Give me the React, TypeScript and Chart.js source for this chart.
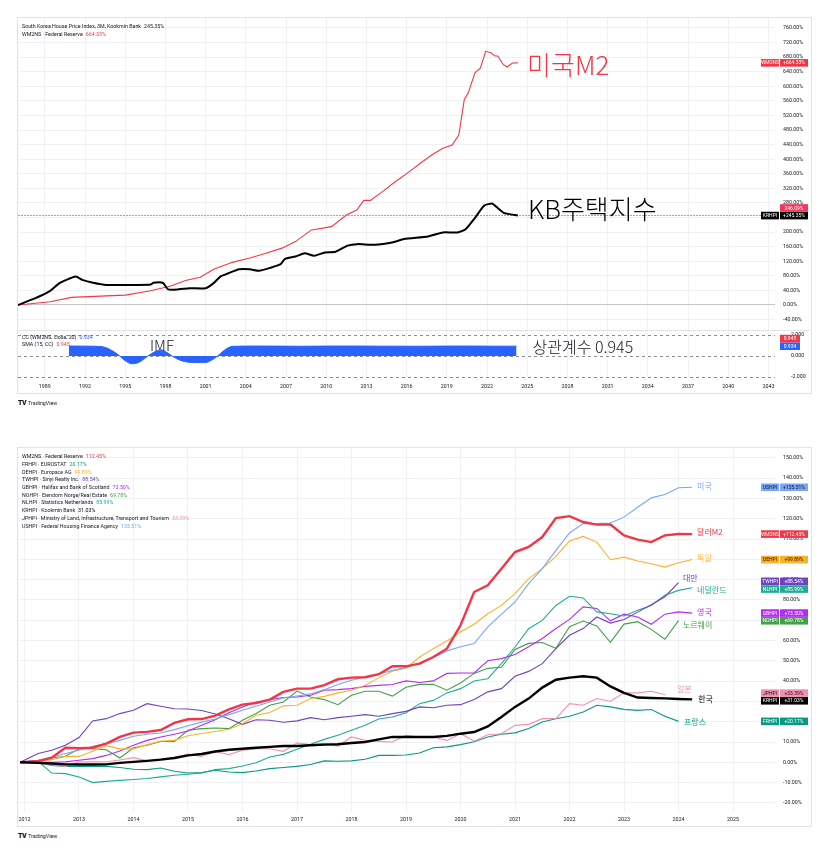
import React, { useEffect, useRef } from 'react';
import { Chart, registerables } from 'chart.js';

Chart.register(...registerables);

const UI_FONT = 'Roboto, "Liberation Sans", Arial, sans-serif';
const KR_FONT = '"Noto Sans CJK KR", "Noto Sans", sans-serif';
const TEXT = '#131722';
const GRID = '#eff1f5';
const RED = '#f23645';
const BLUE = '#2962ff';

// ---------------- Top chart (since 1987) ----------------
const topYearTicks = [1989, 1992, 1995, 1998, 2001, 2004, 2007, 2010, 2013, 2016, 2019, 2022, 2025, 2028, 2031, 2034, 2037, 2040, 2043];
const topPctTicks = [-40, 0, 40, 80, 120, 160, 200, 240, 280, 320, 360, 400, 440, 480, 520, 560, 600, 640, 680, 720, 760];

const m2Years = [1987.0, 1989.4, 1991.0, 1993.6, 1995.0, 1996.9, 1998.4, 1999.5, 2000.6, 2001.6, 2003.0, 2004.3, 2005.5, 2006.7, 2007.7, 2008.9, 2010.4, 2011.5, 2012.3, 2012.8, 2013.3, 2014.2, 2015.0, 2016.2, 2017.1, 2017.9, 2018.7, 2019.4, 2019.9, 2020.3, 2020.6, 2021.1, 2021.5, 2021.9, 2022.3, 2022.6, 2022.8, 2023.2, 2023.5, 2023.9, 2024.3];
const m2Values = [0, 9, 21, 25, 27, 39, 52, 67, 76, 98, 117, 129, 142, 156, 174, 206, 215, 247, 261, 287, 287, 311, 334, 366, 391, 412, 430, 439, 467, 563, 582, 637, 650, 696, 692, 683, 683, 660, 653, 664, 664.33];

const kbYears = [1987.0, 1988.3, 1989.4, 1990.1, 1991.3, 1991.8, 1992.6, 1993.6, 1995.8, 1996.9, 1997.1, 1997.8, 1998.2, 1999.0, 1999.8, 2001.0, 2001.6, 2002.1, 2002.7, 2003.5, 2004.3, 2005.0, 2005.9, 2006.6, 2006.9, 2007.7, 2008.4, 2009.1, 2009.9, 2010.7, 2011.6, 2012.3, 2013.6, 2015.0, 2015.8, 2017.6, 2018.7, 2019.8, 2020.4, 2021.1, 2021.8, 2022.4, 2022.8, 2023.3, 2024.3];
const kbValues = [0, 19, 39, 60, 78, 69, 61, 55, 55, 56, 61, 61, 43, 43, 46, 46, 60, 78, 87, 98, 98, 94, 103, 112, 126, 133, 142, 135, 144, 146, 163, 167, 165, 172, 181, 188, 199, 199, 208, 239, 273, 278, 266, 252, 245.35];
const kbPriceLine = 246.09;

const ccYears = [1990.8, 1992.0, 1993.2, 1993.9, 1994.5, 1995.0, 1995.5, 1996.0, 1996.7, 1997.2, 1997.7, 1998.1, 1998.5, 1999.0, 1999.5, 2000.0, 2000.6, 2001.1, 2001.5, 2001.9, 2002.4, 2003.0, 2005, 2008, 2011, 2014, 2017, 2020, 2022.5, 2024.2];
const ccValues = [0.95, 0.94, 0.9, 0.6, 0.1, -0.45, -0.74, -0.62, 0, 0.4, 0.57, 0.35, 0, -0.35, -0.55, -0.62, -0.63, -0.6, -0.35, 0, 0.55, 0.92, 0.95, 0.93, 0.95, 0.94, 0.93, 0.95, 0.94, 0.934];
const ccSma = 0.945;
const ccTicks = [-2, 0, 2];

// ---------------- Bottom chart (since 2012, quarterly) ----------------
const bottomYearTicks = [2012, 2013, 2014, 2015, 2016, 2017, 2018, 2019, 2020, 2021, 2022, 2023, 2024, 2025];
const bottomPctTicks = [-20, -10, 0, 10, 20, 30, 40, 50, 60, 70, 80, 90, 100, 110, 120, 130, 140, 150];
const quarterTimes = [2011.92].concat(Array.from({ length: 49 }, (_, k) => 2012.25 + 0.25 * k));

const m2Pct = [0, 0.5, 2.3, 7.2, 7, 7.2, 9.2, 12.5, 14.6, 15, 15.9, 19.4, 21.2, 21.3, 23, 26.1, 28.4, 29.2, 30.9, 34.7, 36.3, 36.3, 38, 40.9, 41.7, 41.9, 43.4, 47.3, 47.3, 48.6, 51.9, 56, 67.5, 83.9, 87.2, 95.4, 103.6, 106.1, 111, 120.3, 121.3, 118.4, 117.1, 117.2, 111.8, 109.7, 108.5, 111.8, 112.5, 112.45];
const usPct = [0, 1, 2.6, 4.3, 5.9, 7.9, 9.2, 10.8, 12.8, 13.8, 14.4, 16.1, 18, 19.8, 21.3, 23.5, 25.6, 27.6, 29.7, 31.7, 32.7, 33.7, 35.8, 38.3, 40.4, 42.1, 43.4, 45.3, 46.7, 48.9, 51.6, 54.9, 56.9, 58.5, 66.7, 72.9, 79, 88, 95.4, 104.4, 113, 117.6, 117.6, 117.9, 120.8, 125.7, 130.3, 132, 135.3, 135.51];
const dePct = [0, 0.5, 1.3, 2.9, 2.9, 5.4, 8.2, 6.6, 6.6, 8.7, 10.4, 10.8, 13.1, 14.2, 15.2, 16.3, 19, 23.2, 24.5, 27.8, 28.1, 31.4, 32.5, 34.2, 35.5, 38, 41.6, 44.9, 46.4, 51.9, 56, 59.8, 64.2, 68, 73.2, 77.3, 83.1, 90.5, 95.4, 101.5, 109.1, 111.3, 108.5, 99.8, 101.1, 99.2, 97.8, 96.2, 98.3, 99.89];
const twPct = [0, 4.3, 5.9, 8.4, 12.2, 20.4, 21.5, 24, 25.6, 28.9, 27.6, 26.4, 26.3, 25.5, 23.8, 21.5, 18.7, 21, 20.7, 19.7, 20.4, 22, 21, 22, 22.7, 23.5, 22.7, 24, 25.1, 27.3, 26.9, 28.1, 28.4, 30.9, 34.7, 36.3, 42.4, 44.8, 48.6, 56, 62.6, 65.9, 71.6, 68.6, 70.4, 74, 77.6, 81.6, 88.54, null];
const nlPct = [0, 0.5, -5.3, -5.6, -7.2, -10, -9.4, -8.9, -8.5, -8, -7.2, -6.4, -5.9, -5.3, -3.6, -3.1, -1.8, -0.2, 2.6, 3.9, 6.4, 8.9, 11.3, 13.3, 15.8, 18.2, 21.3, 22.3, 24.4, 28.9, 30.5, 34.2, 36.3, 40.1, 41.2, 48.6, 56.8, 65.8, 69.9, 77.3, 81.8, 81, 74.1, 73.2, 72.1, 74.9, 77.3, 82.3, 84.7, 85.99];
const gbPct = [0, 0, 0, 0.2, 1, 1.8, 3.4, 5.6, 8.4, 10.8, 12.5, 13.8, 15.4, 18.2, 21, 24.4, 27.3, 29.7, 30.9, 31.9, 32.2, 33, 35.5, 35.8, 36.3, 37.4, 37.9, 38.3, 40.1, 39.3, 40.1, 43.8, 44, 44, 50, 51.1, 53.1, 56.9, 61, 65.9, 70.4, 76.6, 75.8, 69.7, 73, 71.6, 68, 73, 74.1, 73.5];
const noPct = [0, 1, 2.1, 3, 6.7, 6.7, 6.2, 2.1, 7.2, 8.4, 10.3, 10.3, 15.8, 16.6, 16.9, 16.6, 20.7, 24, 28.1, 29.7, 35.1, 32.2, 30.9, 28.4, 33, 35, 35, 32.6, 37, 38.4, 38.4, 35.5, 39.1, 43.8, 46.3, 46.8, 55.6, 58.6, 59, 56.2, 66.8, 69.6, 67.2, 59.1, 68.1, 69.3, 65.5, 60.6, 69.78, null];
const frPct = [0, -0.2, -1.5, -2, -2, -2, -2, -2.6, -3.4, -3.6, -2.8, -4.4, -5.3, -5.1, -3.9, -4.8, -5.1, -4.3, -3.1, -2.6, -2, -1.1, 0.7, 0.5, 0.7, 1.5, 3.4, 3.4, 3.6, 4.6, 7.2, 7.6, 8.7, 10.1, 12.5, 13.8, 14.5, 16.6, 19.9, 21.5, 22.7, 24.8, 28.1, 27.3, 26.1, 25.6, 26, 22.7, 20.17, null];
const jpPct = [0, -0.5, -1.3, -2.1, 0.2, 0.2, 0.3, 1.1, 2.3, 0.7, 1.5, 2.3, 4.1, 2.9, 5.3, 3.8, 5.9, 6.7, 6.7, 5.4, 9.5, 8.7, 9.2, 8, 12.5, 10.8, 10.3, 10, 13.3, 12.5, 12.5, 10.8, 14.1, 10.5, 13.6, 14.1, 18.2, 18.7, 21.5, 21.5, 28.9, 28.1, 31.4, 30.1, 34.2, 34.2, 35, 33.39, null, null];
const krPct = [0, -0.3, -0.6, -1, -1.1, -1.1, -1, -0.3, 0.2, 0.7, 1.3, 2.1, 3.4, 4.1, 5.3, 6.2, 6.7, 7.2, 7.6, 8, 8, 8.4, 8.7, 8.9, 9.5, 10, 11.3, 12.5, 12.5, 12.5, 12.5, 13, 14.1, 14.9, 17.7, 22.3, 27.3, 31.4, 36.8, 40.7, 41.7, 42.4, 41.7, 37.4, 34.2, 31.9, 31.7, 31.5, 31.2, 31.03];

type Series = { code: string; src: string; data: (number | null)[]; color: string; width: number; label: string; tagText: string };

// drawing order: first = on top
const bottomSeries: Series[] = [
  { code: 'KRHPI', src: 'Kookmin Bank', data: krPct, color: '#000000', width: 2.4, label: '한국', tagText: '#ffffff' },
  { code: 'WM2NS', src: 'Federal Reserve', data: m2Pct, color: RED, width: 2.4, label: '달러M2', tagText: '#ffffff' },
  { code: 'USHPI', src: 'Federal Housing Finance Agency', data: usPct, color: '#7aa6f4', width: 1.1, label: '미국', tagText: '#131722' },
  { code: 'DEHPI', src: 'Europace AG', data: dePct, color: '#fbb12a', width: 1.1, label: '독일', tagText: '#131722' },
  { code: 'TWHPI', src: 'Sinyi Realty Inc.', data: twPct, color: '#6f42c1', width: 1.1, label: '대만', tagText: '#ffffff' },
  { code: 'NLHPI', src: 'Statistics Netherlands', data: nlPct, color: '#22ab94', width: 1.1, label: '네덜란드', tagText: '#ffffff' },
  { code: 'GBHPI', src: 'Halifax and Bank of Scotland', data: gbPct, color: '#b42bf5', width: 1.1, label: '영국', tagText: '#ffffff' },
  { code: 'NOHPI', src: 'Eiendom Norge/Real Estate', data: noPct, color: '#43a047', width: 1.1, label: '노르웨이', tagText: '#ffffff' },
  { code: 'JPHPI', src: 'Ministry of Land, Infrastructure, Transport and Tourism', data: jpPct, color: '#f48fb1', width: 1.1, label: '일본', tagText: '#131722' },
  { code: 'FRHPI', src: 'EUROSTAT', data: frPct, color: '#089981', width: 1.1, label: '프랑스', tagText: '#ffffff' },
];
const bottomLegendOrder = ['WM2NS', 'FRHPI', 'DEHPI', 'TWHPI', 'GBHPI', 'NOHPI', 'NLHPI', 'KRHPI', 'JPHPI', 'USHPI'];

// annotation anchors (time, value) for the hand-placed Korean labels
const bottomLabelAnchors: Record<string, [number, number]> = {
  USHPI: [2024.34, 136.1], WM2NS: [2024.34, 113.5], DEHPI: [2024.34, 100.7], TWHPI: [2024.08, 90.8],
  NLHPI: [2024.34, 85.1], GBHPI: [2024.34, 74.1], NOHPI: [2024.08, 67.7], JPHPI: [2023.97, 36.1],
  KRHPI: [2024.36, 31.4], FRHPI: [2024.1, 19.9],
};

// ---------------- helpers ----------------
const TAG_H = 7.6;
function lastValue(arr: (number | null)[]): number {
  for (let i = arr.length - 1; i >= 0; i--) if (arr[i] != null) return arr[i] as number;
  return 0;
}
function drawTag(ctx: CanvasRenderingContext2D, right: number, cy: number, name: string | null, value: string, bg: string, fg: string, valueW = 28) {
  ctx.save();
  ctx.font = `5px ${UI_FONT}`;
  ctx.textAlign = 'center';
  ctx.textBaseline = 'middle';
  const top = cy - TAG_H / 2;
  if (name) {
    ctx.fillStyle = bg;
    ctx.fillRect(right - 14, top, 18, TAG_H);
    ctx.fillStyle = fg;
    ctx.fillText(name, right - 5, cy + 0.3);
  }
  ctx.fillStyle = bg;
  ctx.fillRect(right + 5, top, valueW, TAG_H);
  ctx.fillStyle = fg;
  ctx.fillText(value, right + 5 + valueW / 2, cy + 0.3);
  ctx.restore();
}
function drawLabel(ctx: CanvasRenderingContext2D, text: string, x: number, y: number, color: string, font: string) {
  ctx.save();
  ctx.font = font;
  ctx.fillStyle = color;
  ctx.textAlign = 'left';
  ctx.textBaseline = 'middle';
  ctx.fillText(text, x, y);
  ctx.restore();
}
function relax(items: { y: number }[], h: number) {
  items.sort((a, b) => a.y - b.y);
  for (let it = 0; it < 30; it++) {
    for (let k = 1; k < items.length; k++) {
      const gap = items[k].y - items[k - 1].y;
      if (gap < h) {
        const d = (h - gap) / 2;
        items[k - 1].y -= d;
        items[k].y += d;
      }
    }
  }
}
const noPad = (s: any) => { s.paddingTop = 0; s.paddingBottom = 0; s.paddingLeft = 0; s.paddingRight = 0; };
const tickFont = { family: UI_FONT, size: 5.3 };

// ---------------- chart configs ----------------
const TOP_X_MIN = 1987.0, TOP_X_MAX = 2043.49;

function topMainConfig(): any {
  const overlay = {
    id: 'topOverlay',
    beforeDatasetsDraw(chart: any) {
      const { ctx, chartArea: a, scales: { y } } = chart;
      const py = Math.round(y.getPixelForValue(kbPriceLine)) + 0.5;
      ctx.save();
      ctx.strokeStyle = 'rgba(240,70,120,0.7)';
      ctx.lineWidth = 1;
      ctx.setLineDash([2, 1]);
      ctx.beginPath(); ctx.moveTo(a.left, py); ctx.lineTo(a.right, py); ctx.stroke();
      ctx.restore();
    },
    afterDraw(chart: any) {
      const { ctx, chartArea: a, scales: { x, y } } = chart;
      drawLabel(ctx, '미국M2', x.getPixelForValue(2024.99), y.getPixelForValue(658), RED, `300 26px ${KR_FONT}`);
      drawLabel(ctx, 'KB주택지수', x.getPixelForValue(2025.06), y.getPixelForValue(262), '#000000', `300 26px ${KR_FONT}`);
      const m2Last = lastValue(m2Values);
      const kbLast = lastValue(kbValues);
      drawTag(ctx, a.right, y.getPixelForValue(m2Last), 'WM2NS', '+' + m2Last.toFixed(2) + '%', RED, '#fff');
      const kbY = y.getPixelForValue(kbLast);
      drawTag(ctx, a.right, kbY, 'KRHPI', '+' + kbLast.toFixed(2) + '%', '#000', '#fff');
      drawTag(ctx, a.right, kbY - TAG_H, null, kbPriceLine.toFixed(2) + '%', '#f2365f', '#fff', 28);
    },
  };
  return {
    type: 'line',
    data: {
      datasets: [
        { data: kbYears.map((t, i) => ({ x: t, y: kbValues[i] })), borderColor: '#000', borderWidth: 2, pointRadius: 0, tension: 0.2 },
        { data: m2Years.map((t, i) => ({ x: t, y: m2Values[i] })), borderColor: RED, borderWidth: 1.1, pointRadius: 0, tension: 0 },
      ],
    },
    options: {
      animation: false, responsive: false, devicePixelRatio: 1, events: [],
      layout: { padding: 0 },
      plugins: { legend: { display: false }, tooltip: { enabled: false } },
      scales: {
        x: {
          type: 'linear', min: TOP_X_MIN, max: TOP_X_MAX,
          afterBuildTicks: (s: any) => { s.ticks = topYearTicks.map((v) => ({ value: v })); },
          ticks: { display: false },
          grid: { color: GRID, drawTicks: false },
          border: { display: false },
          afterFit: (s: any) => { s.height = 0; noPad(s); },
        },
        y: {
          position: 'right', min: -68.6, max: 787.4,
          afterBuildTicks: (s: any) => { s.ticks = topPctTicks.map((v) => ({ value: v })); },
          ticks: { font: tickFont, color: TEXT, padding: 8, autoSkip: false, callback: (v: number) => v.toFixed(2) + '%' },
          grid: { color: (c: any) => (c.tick && c.tick.value === 0 ? '#c3c6ce' : GRID), drawTicks: false },
          border: { display: false },
          afterFit: (s: any) => { s.width = 35; noPad(s); },
        },
      },
    },
    plugins: [overlay],
  };
}

function topLowerConfig(): any {
  const overlay = {
    id: 'ccOverlay',
    beforeDatasetsDraw(chart: any) {
      const { ctx, chartArea: a, scales: { y } } = chart;
      ctx.save();
      ctx.strokeStyle = '#8a8d96';
      ctx.lineWidth = 1;
      ctx.setLineDash([3, 3]);
      ccTicks.forEach((v) => {
        const py = Math.round(y.getPixelForValue(v)) + 0.5;
        ctx.beginPath(); ctx.moveTo(a.left, py); ctx.lineTo(a.right, py); ctx.stroke();
      });
      ctx.restore();
    },
    afterDraw(chart: any) {
      const { ctx, chartArea: a, scales: { x, y } } = chart;
      drawLabel(ctx, 'IMF', x.getPixelForValue(1996.85), y.getPixelForValue(1.05), TEXT, `300 15px ${KR_FONT}`);
      drawLabel(ctx, '상관계수 0.945', x.getPixelForValue(2025.4), y.getPixelForValue(0.86), TEXT, `300 16px ${KR_FONT}`);
      const ccLast = lastValue(ccValues);
      const by = y.getPixelForValue(ccLast);
      drawTag(ctx, a.right, by, null, ccLast.toFixed(3), BLUE, '#fff', 20);
      drawTag(ctx, a.right, by - TAG_H, null, ccSma.toFixed(3), RED, '#fff', 20);
    },
  };
  return {
    type: 'line',
    data: {
      datasets: [
        {
          data: ccYears.map((t, i) => ({ x: t, y: ccValues[i] })),
          borderColor: BLUE, backgroundColor: BLUE, borderWidth: 1, pointRadius: 0,
          fill: 'origin', cubicInterpolationMode: 'monotone',
        },
      ],
    },
    options: {
      animation: false, responsive: false, devicePixelRatio: 1, events: [],
      layout: { padding: 0 },
      plugins: { legend: { display: false }, tooltip: { enabled: false } },
      scales: {
        x: {
          type: 'linear', min: TOP_X_MIN, max: TOP_X_MAX,
          afterBuildTicks: (s: any) => { s.ticks = topYearTicks.map((v) => ({ value: v })); },
          ticks: { font: tickFont, color: TEXT, padding: 5, maxRotation: 0, autoSkip: false, callback: (v: number) => String(v) },
          grid: { color: GRID, drawTicks: false },
          border: { display: false },
          afterFit: (s: any) => { s.height = 14; noPad(s); },
        },
        y: {
          position: 'right', min: -2.095, max: 2.381,
          afterBuildTicks: (s: any) => { s.ticks = ccTicks.map((v) => ({ value: v })); },
          ticks: { font: tickFont, color: TEXT, padding: 8, autoSkip: false, callback: (v: number) => v.toFixed(3) },
          grid: { display: false },
          border: { display: false },
          afterFit: (s: any) => { s.width = 35; noPad(s); },
        },
      },
    },
    plugins: [overlay],
  };
}

function bottomConfig(): any {
  const overlay = {
    id: 'bottomOverlay',
    afterDraw(chart: any) {
      const { ctx, chartArea: a, scales: { x, y } } = chart;
      bottomSeries.forEach((s) => {
        const anc = bottomLabelAnchors[s.code];
        drawLabel(ctx, s.label, x.getPixelForValue(anc[0]), y.getPixelForValue(anc[1]), s.color, `8px ${KR_FONT}`);
      });
      const items = bottomSeries.map((s) => {
        const v = lastValue(s.data);
        return { s, v, y: y.getPixelForValue(v) };
      });
      relax(items, TAG_H + 0.1);
      items.forEach((it) => drawTag(ctx, a.right, it.y, it.s.code, '+' + it.v.toFixed(2) + '%', it.s.color, it.s.tagText));
    },
  };
  return {
    type: 'line',
    data: {
      datasets: bottomSeries.map((s) => ({
        data: quarterTimes.map((t, i) => ({ x: t, y: s.data[i] })),
        borderColor: s.color, borderWidth: s.width, pointRadius: 0, tension: 0, spanGaps: false,
      })),
    },
    options: {
      animation: false, responsive: false, devicePixelRatio: 1, events: [],
      layout: { padding: 0 },
      plugins: { legend: { display: false }, tooltip: { enabled: false } },
      scales: {
        x: {
          type: 'linear', min: 2011.881, max: 2025.77,
          afterBuildTicks: (s: any) => { s.ticks = bottomYearTicks.map((v) => ({ value: v })); },
          ticks: { font: tickFont, color: TEXT, padding: 4, maxRotation: 0, autoSkip: false, callback: (v: number) => String(v) },
          grid: { color: GRID, drawTicks: false },
          border: { display: false },
          afterFit: (s: any) => { s.height = 14; noPad(s); },
        },
        y: {
          position: 'right', min: -24.49, max: 154.87,
          afterBuildTicks: (s: any) => { s.ticks = bottomPctTicks.map((v) => ({ value: v })); },
          ticks: { font: tickFont, color: TEXT, padding: 8, autoSkip: false, callback: (v: number) => v.toFixed(2) + '%' },
          grid: { color: GRID, drawTicks: false },
          border: { display: false },
          afterFit: (s: any) => { s.width = 35; noPad(s); },
        },
      },
    },
    plugins: [overlay],
  };
}

// ---------------- components ----------------
function ChartCanvas({ left, top, width, height, build }: { left: number; top: number; width: number; height: number; build: () => any }) {
  const ref = useRef<HTMLCanvasElement | null>(null);
  useEffect(() => {
    const chart = new Chart(ref.current as HTMLCanvasElement, build());
    return () => chart.destroy();
  }, []);
  return <canvas ref={ref} width={width} height={height} style={{ position: 'absolute', left, top, width, height }} />;
}

function LegendLine({ top, label, value, color }: { top: number; label: string; value: string; color: string }) {
  return (
    <div style={{ position: 'absolute', left: 22, top: top - 3.5, height: 7, lineHeight: '7px', fontSize: 5.3, fontFamily: UI_FONT, color: TEXT, whiteSpace: 'nowrap' }}>
      {label}
      <span style={{ color, marginLeft: 3 }}>{value}</span>
    </div>
  );
}

function Logo({ top }: { top: number }) {
  return (
    <div style={{ position: 'absolute', left: 18, top: top - 4, height: 8, lineHeight: '8px', fontFamily: UI_FONT, color: TEXT, whiteSpace: 'nowrap' }}>
      <span style={{ fontSize: 7, fontWeight: 900, letterSpacing: -0.5 }}>TV</span>
      <span style={{ fontSize: 5.3, marginLeft: 2 }}>TradingView</span>
    </div>
  );
}

const frame = (left: number, top: number, width: number, height: number): React.CSSProperties => ({
  position: 'absolute', left, top, width, height, border: '1px solid #e0e3eb', boxSizing: 'border-box',
});

export default function App() {
  const seriesByCode: Record<string, Series> = {};
  bottomSeries.forEach((s) => { seriesByCode[s.code] = s; });
  return (
    <div style={{ position: 'absolute', left: 0, top: 0, width: 831, height: 855, background: '#ffffff', overflow: 'hidden' }}>
      {/* top chart */}
      <div style={frame(17, 17, 795, 377)} />
      <ChartCanvas left={18} top={18} width={792} height={312} build={topMainConfig} />
      <div style={{ position: 'absolute', left: 18, top: 330, width: 792, height: 1, background: '#e0e3eb' }} />
      <ChartCanvas left={18} top={331} width={792} height={61} build={topLowerConfig} />
      <LegendLine top={26.7} label="South Korea House Price Index, 3M, Kookmin Bank" value={lastValue(kbValues).toFixed(2) + '%'} color={TEXT} />
      <LegendLine top={34.3} label="WM2NS · Federal Reserve" value={lastValue(m2Values).toFixed(2) + '%'} color={RED} />
      <LegendLine top={337.5} label="CC (WM2NS, close, 20)" value={lastValue(ccValues).toFixed(3)} color={BLUE} />
      <LegendLine top={344.5} label="SMA (15, CC)" value={ccSma.toFixed(3)} color={RED} />
      <Logo top={400} />

      {/* bottom chart */}
      <div style={frame(17, 447, 795, 380)} />
      <ChartCanvas left={18} top={448} width={792} height={378} build={bottomConfig} />
      {bottomLegendOrder.map((code, k) => {
        const s = seriesByCode[code];
        return <LegendLine key={code} top={456.7 + k * 7.7} label={`${s.code} · ${s.src}`} value={lastValue(s.data).toFixed(2) + '%'} color={s.color} />;
      })}
      <Logo top={833} />
    </div>
  );
}
